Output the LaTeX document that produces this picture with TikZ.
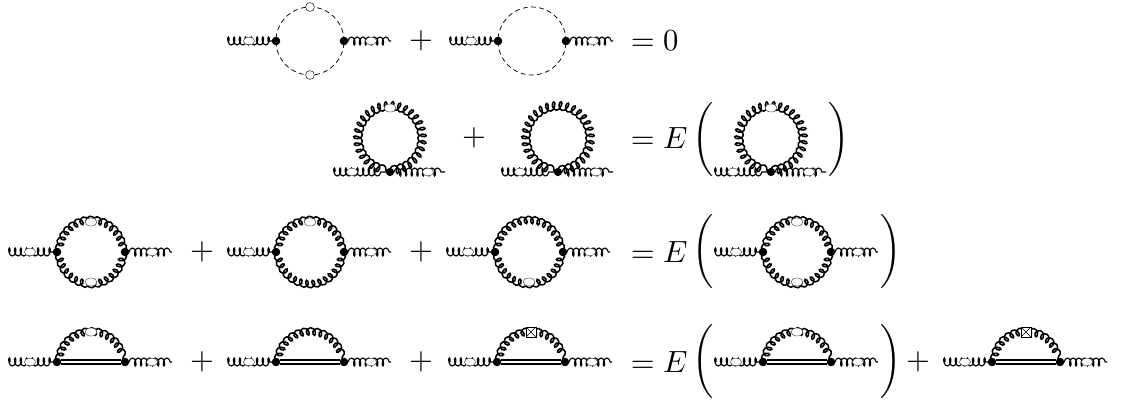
\documentclass[tikz,border=0pt]{standalone}
\usepackage{graphicx}
\usetikzlibrary{decorations.pathmorphing,shapes.geometric}
\newcommand{\mth}[1]{\scalebox{2.3}{$#1$}}
\newcommand{\pl}{\scalebox{2}[1.85]{$\Bigg($}}
\newcommand{\pr}{\scalebox{2}[1.85]{$\Bigg)$}}
\tikzset{
  every picture/.append style={x=.75pt,y=.75pt},
  legdn/.style={line width=.85pt,decorate,decoration={coil,aspect=-.5,segment length=4.3pt,amplitude=3pt,post length=3pt}},
  legup/.style={line width=.85pt,decorate,decoration={coil,aspect=.5,segment length=4.3pt,amplitude=3pt,pre length=3pt}},
  gluon/.style={line width=1.15pt,decorate,decoration={coil,aspect=.68,segment length=4.8pt,amplitude=3pt}},
  ghost/.style={line width=.55pt,dash pattern=on 3.6pt off 2.6pt},
  doubleln/.style={line width=3.8pt},
  doublein/.style={line width=1.2pt,white},
  vtx/.style={circle,fill=black,inner sep=0pt,minimum size=6.2pt},
  blob/.style={circle,draw=black,line width=.35pt,fill=white,inner sep=0pt,minimum size=6.6pt},
  gblob/.style={ellipse,draw=black!80,line width=.3pt,fill=white,inner sep=0pt,minimum width=9pt,minimum height=6pt},
  legblob/.style={ellipse,draw=black!80,line width=.3pt,fill=white,inner sep=0pt,minimum width=8.5pt,minimum height=5.8pt},
  xbox/.style={rectangle,draw=black,line width=.4pt,fill=white,inner sep=0pt,minimum size=7.4pt,
    path picture={\draw[line width=.4pt] (path picture bounding box.south west)--(path picture bounding box.north east)
      (path picture bounding box.north west)--(path picture bounding box.south east);}},
  eq/.style={inner sep=0pt},
}
\newcommand{\wowmom}[3]{% prefix, centre x, y
  \begin{scope}[shift={(#2,#3)},name prefix=#1]
    \node[coordinate] (la) at (-81,0) {};
    \node[coordinate] (lb) at (-34,0) {};
    \node[coordinate] (ra) at (34,0) {};
    \node[coordinate] (rb) at (81,0) {};
    \draw[legdn] (la) -- (lb);
    \draw[legup] (ra) -- (rb);
    \node[legblob] (lm) at (-61,0) {};
    \node[legblob] (rm) at (61,0) {};
    \node[vtx] (l) at (lb) {};
    \node[vtx] (r) at (ra) {};
  \end{scope}}
\newcommand{\ghostloop}[3]{%
  \wowmom{#1}{#2}{#3}
  \begin{scope}[shift={(#2,#3)},name prefix=#1]
    \draw[ghost] (0,0) circle[radius=34];
    \node[vtx] at (l) {};
    \node[vtx] at (r) {};
  \end{scope}}
\newcommand{\gluonloop}[3]{%
  \wowmom{#1}{#2}{#3}
  \begin{scope}[shift={(#2,#3)},name prefix=#1]
    \draw[gluon] ([xshift=1.9pt]l.center) arc[start angle=180,end angle=0,radius=31.5];
    \draw[gluon] ([xshift=-1.9pt]r.center) arc[start angle=0,end angle=-180,radius=31.5];
    \node[vtx] at (l) {};
    \node[vtx] at (r) {};
  \end{scope}}
\newcommand{\tadpole}[3]{% prefix, centre x, vertex y
  \begin{scope}[shift={(#2,#3)},name prefix=#1]
    \node[coordinate] (la) at (-55,0) {};
    \node[coordinate] (ra) at (55,0) {};
    \node[coordinate] (v) at (0,0) {};
    \draw[legdn] (la) -- (v);
    \draw[legup] (v) -- (ra);
    \node[legblob] (lm) at (-38,0) {};
    \node[legblob] (rm) at (38,0) {};
    \draw[gluon] ([yshift=1.9pt]v) arc[start angle=-90,end angle=270,radius=31.5];
    \node[vtx] (vv) at (v) {};
  \end{scope}}
\newcommand{\rainbow}[3]{%
  \wowmom{#1}{#2}{#3}
  \begin{scope}[shift={(#2,#3)},name prefix=#1]
    \draw[doubleln] (l) -- (r);
    \draw[doublein] (l) -- (r);
    \draw[gluon] ([xshift=1.9pt]l.center) arc[start angle=180,end angle=0,x radius=31.5,y radius=30];
    \node[vtx] at (l) {};
    \node[vtx] at (r) {};
  \end{scope}}
\begin{document}
\begin{tikzpicture}
\useasboundingbox (0,0) rectangle (1122,-408);
% row 1
\ghostloop{a}{310}{-41}
\node[blob] (a1) at (310,-7) {};
\node[blob] (a2) at (310,-75) {};
\node[eq] (ap) at (421,-41) {\mth{+}};
\ghostloop{b}{532}{-41}
\node[eq,anchor=west] (ae) at (630.5,-41) {\mth{=0}};
% row 2
\tadpole{c}{390}{-172}
\node[gblob] (c1) at (390,-108) {};
\node[eq] (cp) at (474,-138) {\mth{+}};
\tadpole{d}{558}{-172}
\node[eq,anchor=west] (ce) at (630.5,-138) {\mth{=E}};
\node[eq] (cl) at (703,-140) {\pl};
\tadpole{e}{771}{-172}
\node[gblob] (e1) at (771,-108) {};
\node[eq] (cr) at (839,-140) {\pr};
% row 3
\gluonloop{f}{91}{-252}
\node[gblob] (f1) at (91,-222) {};
\node[gblob] (f2) at (91,-282) {};
\node[eq] (fp) at (202,-252) {\mth{+}};
\gluonloop{g}{310}{-252}
\node[gblob] (g1) at (310,-222) {};
\node[eq] (gp) at (421,-252) {\mth{+}};
\gluonloop{h}{529}{-252}
\node[gblob] (h2) at (529,-282) {};
\node[eq,anchor=west] (he) at (630.5,-252) {\mth{=E}};
\node[eq] (hl) at (703,-252) {\pl};
\gluonloop{i}{797}{-252}
\node[gblob] (i1) at (797,-222) {};
\node[gblob] (i2) at (797,-282) {};
\node[eq] (hr) at (891,-252) {\pr};
% row 4
\rainbow{j}{91}{-362}
\node[gblob] (j1) at (91,-332) {};
\node[eq] (jp) at (202,-362) {\mth{+}};
\rainbow{k}{310}{-362}
\node[eq] (kp) at (421,-362) {\mth{+}};
\rainbow{m}{531}{-362}
\node[xbox] (l1) at (531,-332) {};
\node[eq,anchor=west] (le) at (630.5,-362) {\mth{=E}};
\node[eq] (ll) at (703,-362) {\pl};
\rainbow{n}{797}{-362}
\node[gblob] (m1) at (797,-332) {};
\node[eq] (lr) at (891,-362) {\pr};
\node[eq] (lp) at (918,-362) {\mth{+}};
\rainbow{o}{1026}{-362}
\node[xbox] (n1) at (1026,-332) {};
\end{tikzpicture}
\end{document}
